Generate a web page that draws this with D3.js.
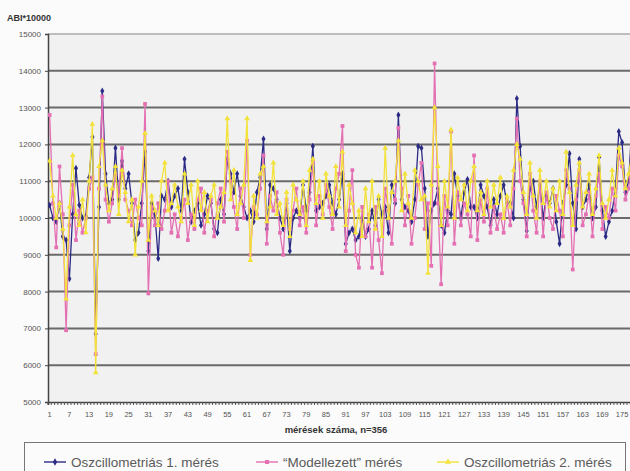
<!DOCTYPE html>
<html><head><meta charset="utf-8">
<script src="https://cdn.jsdelivr.net/npm/d3@7"></script>
<style>
html,body{margin:0;padding:0;background:#fbfbfb;}
svg{display:block;font-family:Arial,"Liberation Sans",sans-serif;}
</style></head>
<body><svg id="c" width="630" height="471"></svg>
<script>
const yTicks = [5000,6000,7000,8000,9000,10000,11000,12000,13000,14000,15000];
const xTickLabels = [1,7,13,19,25,31,37,43,49,55,61,67,73,79,85,91,97,103,109,115,121,127,133,139,145,151,157,163,169,175];
const seriesNames = ["Oszcillometriás 1. mérés","“Modellezett” mérés","Oszcillometriás 2. mérés"];
const osc1 = [10350,10000,9900,10400,9500,9400,8350,10100,11350,10350,10000,10050,11100,12200,6850,10300,13450,11200,10400,10500,
11900,10500,11550,10800,11200,10400,9400,9600,10400,11800,9100,10400,10100,8900,10600,10500,11000,10300,10600,10800,
10200,11600,10700,9900,10200,10400,9800,10100,10600,10400,9700,9600,10500,10100,11600,11200,10700,11200,10600,10300,
10000,10200,9900,10700,11100,12150,9700,10900,10800,10500,10000,9700,10400,9100,10000,10200,10000,10900,10200,10700,
11950,10200,10300,10400,10600,10900,10400,10100,10500,11200,9300,9600,9700,9400,9500,10000,9500,9700,10200,9800,
10500,10100,10300,9600,10900,10400,12800,10500,10300,10200,9900,10500,11950,11900,10800,9500,10200,10400,10800,9800,
9600,10200,10100,11200,10600,10000,10700,11050,10300,10300,10000,10900,10600,10300,9800,10500,10100,10600,10900,10400,
10400,10000,13250,11950,10500,9650,10800,11000,10300,10900,10000,10600,10400,10800,9900,9300,10400,10900,11750,10400,
9700,11600,10300,10500,10900,10000,10300,11650,10200,9500,9900,10200,10800,12350,12050,10700,11000,12600];
const model = [12800,10400,9200,11400,10100,6950,9800,10900,9400,10200,9600,10000,10800,11100,6300,10800,13300,10500,9900,10400,
11200,10600,11900,10500,10200,9800,10500,10000,9800,13100,7950,10300,9800,10400,9700,10200,11000,9600,10100,9500,
10000,10500,9400,10100,9700,10500,10800,9600,10200,10500,9500,10400,10800,9900,11800,11000,10300,9700,10800,10000,
12100,9000,10300,10100,10800,11700,9300,10600,10200,10700,9600,9000,10500,9700,10200,10800,9800,10300,9600,10500,
11500,9800,10600,10100,10900,10300,9700,10800,11200,12500,9100,10200,11300,9000,8650,10300,9500,10100,8650,10300,
9400,8500,10800,10200,9300,10500,12450,10800,9800,10600,9300,10000,10900,11500,9700,10400,8700,14200,10400,8200,
10600,9800,12350,9300,10700,9800,10400,10100,9500,11700,9400,10500,9900,10800,9600,10300,9700,10100,9600,10500,
9800,10800,12700,11000,10400,9500,11200,10200,9600,11000,9500,10700,10000,9700,10600,10200,9500,11300,10800,8600,
10500,11300,9800,10100,10700,9500,10600,11200,9700,10300,10000,10800,10200,11700,11400,10500,10800,11900];
const osc2 = [11550,10600,10000,10400,9700,7800,10300,11700,10100,9800,10500,9600,11000,12550,5800,11400,12100,10900,10200,10800,
11400,10100,11300,10700,9900,10500,9000,10300,11000,12300,9400,10600,10200,9800,11000,11500,10200,10400,10900,10300,
9900,11200,10400,10900,9800,11000,10200,10700,9900,10600,10900,10000,10300,10700,12700,10500,11300,10100,10400,10900,
12700,8850,10600,10000,11200,11400,9900,10300,11500,10100,10400,9800,10700,9500,10900,10500,10100,11000,9800,11300,
11600,10400,11000,10000,11200,10600,10100,11400,10300,11800,9800,10900,10400,9600,10200,9500,10800,9900,11000,9700,
10600,9500,11900,10000,10700,11000,12100,10200,11200,10400,10000,11300,11000,10500,10600,8500,10900,13000,11400,9800,
11000,10300,12400,10000,11100,10500,10900,10200,11000,11400,10200,10700,10100,11000,10300,10900,10400,11100,10000,10600,
10300,11300,12000,11600,10700,10100,11500,10600,10000,11300,10400,11000,10300,10800,10200,11000,10100,11800,10700,9800,
10900,11500,10300,10700,11200,10100,10800,11700,10400,10000,10500,11300,10600,11900,11500,10800,11200,11800];

const colors = ["#2b2b86","#e46fb2","#f2e23a"];
const svg = d3.select("#c");
const L = 48, R = 48 + osc1.length * 3.29, T = 34, B = 402;
const cats = d3.range(1, osc1.length + 1);
const x = d3.scaleBand().domain(cats).range([L, R]);
const y = d3.scaleLinear().domain([5000, 15000]).range([B, T]);

svg.append("rect").attr("x", L).attr("y", T).attr("width", 640 - L).attr("height", B - T).attr("fill", "#f1f1f1");
svg.append("g").selectAll("line").data(yTicks.filter(d => d > 5000)).join("line")
  .attr("x1", L).attr("x2", 640).attr("y1", d => y(d)).attr("y2", d => y(d))
  .attr("stroke", d => d === 15000 ? "#bdbdbd" : "#6a6a6a").attr("stroke-width", 2);

const ya = svg.append("g").attr("transform", `translate(${L},0)`)
  .call(d3.axisLeft(y).tickValues(yTicks).tickSize(3).tickFormat(d3.format("d")));
ya.select(".domain").attr("stroke", "#444").attr("stroke-width", 1.5);
ya.selectAll(".tick line").attr("stroke", "#444");
ya.selectAll("text").attr("font-size", 8).attr("fill", "#555").attr("x", -7);

const xa = svg.append("g").attr("transform", `translate(0,${B})`)
  .call(d3.axisBottom(x).tickValues(cats).tickSize(3).tickFormat(d => xTickLabels.includes(d) ? d : ""));
xa.select(".domain").attr("stroke", "#444").attr("stroke-width", 1.5);
xa.selectAll(".tick line").attr("stroke", "#555").attr("transform", `translate(${-x.bandwidth()/2},0)`);
xa.selectAll("text").attr("font-size", 7.5).attr("fill", "#555").attr("dy", "1.2em");

svg.append("text").attr("x", 7).attr("y", 21).attr("font-size", 9).attr("font-weight", "bold").attr("fill", "#333").text("ABI*10000");
svg.append("text").attr("x", 336).attr("y", 433).attr("text-anchor", "middle").attr("font-size", 9.5)
  .attr("font-weight", "bold").attr("fill", "#333").text("mérések száma, n=356");

svg.append("clipPath").attr("id", "clp").append("rect").attr("x", L).attr("y", 0).attr("width", 640 - L).attr("height", 420);
const data = [osc1, model, osc2];
const line = d3.line().x((d, i) => x(cats[i]) + x.bandwidth()/2).y(d => y(d));
const symbols = [d3.symbolDiamond, d3.symbolSquare, d3.symbolTriangle];
const g = svg.append("g").attr("clip-path", "url(#clp)");
data.forEach((arr, k) => {
  g.append("path").datum(arr).attr("d", line).attr("fill", "none").attr("stroke", colors[k]).attr("stroke-width", 1.3);
  g.append("g").selectAll("path").data(arr).join("path")
    .attr("transform", (d, i) => `translate(${x(cats[i]) + x.bandwidth()/2},${y(d)})`)
    .attr("d", d3.symbol().type(symbols[k]).size(14)).attr("fill", colors[k]);
});

svg.append("rect").attr("x", 24.5).attr("y", 442.5).attr("width", 601).attr("height", 40)
  .attr("fill", "#fbfbfb").attr("stroke", "#777").attr("stroke-width", 1);
const lx = [44, 256, 437];
seriesNames.forEach((n, k) => {
  const lg = svg.append("g").attr("transform", `translate(${lx[k]},462)`);
  lg.append("line").attr("x1", 0).attr("x2", 22).attr("stroke", colors[k]).attr("stroke-width", 1.4);
  lg.append("path").attr("transform", "translate(11,0)").attr("d", d3.symbol().type(symbols[k]).size(16)).attr("fill", colors[k]);
  lg.append("text").attr("x", 27).attr("y", 5).attr("font-size", 13.5).attr("fill", "#5a5a5a").text(n);
});
</script></body></html>
